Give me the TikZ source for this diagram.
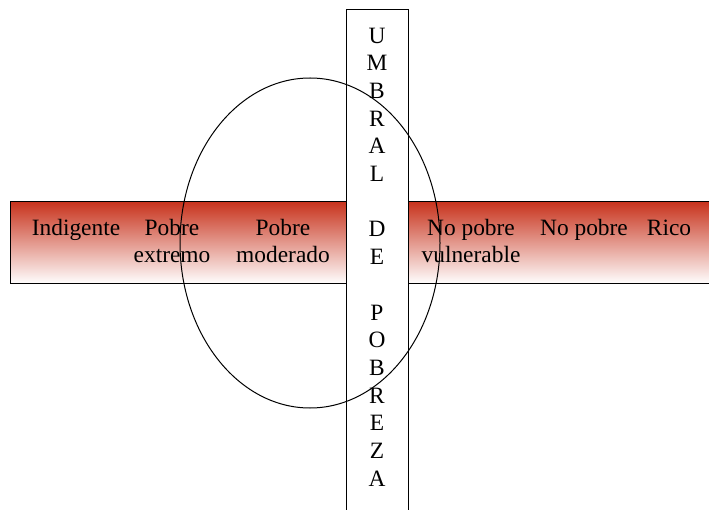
\documentclass[tikz,border=0pt]{standalone}
\usepackage{fontspec}
\setmainfont{Liberation Serif}
\usepackage{tikz}
\usetikzlibrary{shapes.geometric, positioning}
\definecolor{rojo}{RGB}{200,52,30}

\begin{document}
\begin{tikzpicture}[x=1pt, y=-1pt]

    % Styles
    \tikzset{
        franja/.style={rectangle, draw, line width=1pt, top color=rojo, middle color=rojo!42!white, bottom color=white, minimum width=705pt, minimum height=82pt},
        barra/.style={rectangle, draw, line width=1pt, fill=white, minimum width=62pt, minimum height=505pt},
        zona/.style={ellipse, draw, line width=1pt, inner sep=0pt, minimum width=260pt, minimum height=330pt},
        etiqueta/.style={anchor=north, inner sep=0pt, align=center, font=\fontsize{23.4}{27.7}\selectfont}
    }

    \useasboundingbox (0,0) rectangle (709,510);

    % Band and threshold
    \node[franja] (franja) at (362.5, 243) {};
    \node[barra] (umbral) at (377, 262.5) {};

    % Labels of the band
    \node[etiqueta] (indigente) at (76, 215.5) {\strut Indigente};
    \node[etiqueta] (extremo) at (172, 215.5) {\strut Pobre\\extremo};
    \node[etiqueta] (moderado) at (283, 215.5) {\strut Pobre\\moderado};
    \node[etiqueta] (vulnerable) at (471, 215.5) {\strut No pobre\\vulnerable};
    \node[etiqueta] (nopobre) at (584, 215.5) {\strut No pobre};
    \node[etiqueta] (rico) at (669, 215.5) {\strut Rico};

    % Threshold text
    \node[etiqueta] (texto) at (377, 27.5) {U\\M\\B\\R\\A\\L\\~\\D\\E\\~\\P\\O\\B\\R\\E\\Z\\A};

    % Ellipse
    \node[zona] (zona) at (310, 243) {};

\end{tikzpicture}
\end{document}
